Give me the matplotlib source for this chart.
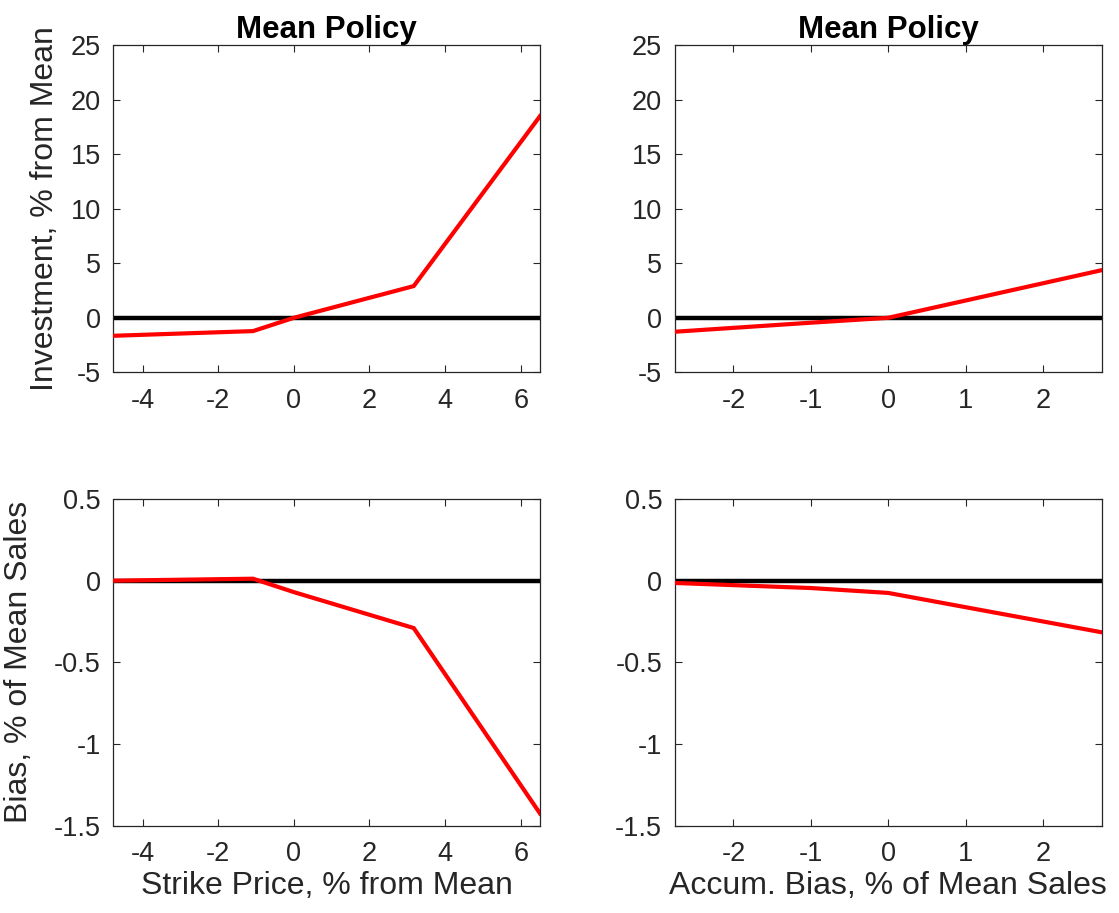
import matplotlib
matplotlib.use("Agg")
import matplotlib.pyplot as plt

plt.rcParams['font.family'] = ['Liberation Sans', 'DejaVu Sans']

# Data
strike_x = [-4.77, -1.08, 0.0, 3.17, 6.51]
invest_strike = [-1.65, -1.22, 0.0, 2.91, 18.5]
bias_strike = [0.0, 0.012, -0.07, -0.29, -1.425]

accum_x = [-2.76, -1.0, 0.0, 2.76]
invest_accum = [-1.28, -0.45, 0.0, 4.37]
bias_accum = [-0.014, -0.045, -0.075, -0.316]

titles = ["Mean Policy", "Mean Policy"]
xlabels = ["Strike Price, % from Mean", "Accum. Bias, % of Mean Sales"]
ylabels = ["Investment, % from Mean", "Bias, % of Mean Sales"]
xticks_strike = [-4, -2, 0, 2, 4, 6]
xticks_accum = [-2, -1, 0, 1, 2]
yticks_top = [-5, 0, 5, 10, 15, 20, 25]
yticks_bot = [-1.5, -1, -0.5, 0, 0.5]
yticklabels_bot = ["-1.5", "-1", "-0.5", "0", "0.5"]

fig = plt.figure(figsize=(11.19, 9.13), dpi=100)
W, H = 1119, 913

def mkax(l, r, t, b):
    return fig.add_axes([l / W, 1 - b / H, (r - l) / W, (b - t) / H])

ax_tl = mkax(113.5, 540, 45.3, 372.3)
ax_tr = mkax(674.7, 1101.7, 45.3, 372.3)
ax_bl = mkax(113.5, 540, 499, 825.7)
ax_br = mkax(674.7, 1101.7, 499, 825.7)

grey = '#262626'
tick_fs = 19.5
label_fs = 23

def style(ax, xlim, ylim, xt, yt, ytl=None):
    ax.set_xlim(*xlim)
    ax.set_ylim(*ylim)
    ax.set_xticks(xt)
    ax.set_xticklabels([str(v) for v in xt])
    ax.set_yticks(yt)
    if ytl is None:
        ax.set_yticklabels([str(v) for v in yt])
    else:
        ax.set_yticklabels(ytl)
    ax.tick_params(direction='in', top=True, right=True, length=5, width=0.8,
                   colors=grey, labelsize=tick_fs, labelcolor=grey)
    ax.tick_params(axis='x', pad=11)
    ax.tick_params(axis='y', pad=9)
    for s in ax.spines.values():
        s.set_color(grey)
        s.set_linewidth(0.9)

def draw(ax, x, y):
    ax.axhline(0, color='black', lw=3.2, zorder=2)
    ax.plot(x, y, color='#ff0000', lw=3.0, zorder=3, solid_joinstyle='miter')

draw(ax_tl, strike_x, invest_strike)
draw(ax_tr, accum_x, invest_accum)
draw(ax_bl, strike_x, bias_strike)
draw(ax_br, accum_x, bias_accum)

style(ax_tl, (-4.77, 6.51), (-5, 25), xticks_strike, yticks_top)
style(ax_tr, (-2.76, 2.76), (-5, 25), xticks_accum, yticks_top)
style(ax_bl, (-4.77, 6.51), (-1.5, 0.5), xticks_strike, yticks_bot, yticklabels_bot)
style(ax_br, (-2.76, 2.76), (-1.5, 0.5), xticks_accum, yticks_bot, yticklabels_bot)

for ax, t in zip([ax_tl, ax_tr], titles):
    ax.set_title(t, fontsize=22.5, fontweight='bold', pad=5, color='black')

ax_bl.set_xlabel(xlabels[0], fontsize=label_fs, color=grey, labelpad=3)
ax_br.set_xlabel(xlabels[1], fontsize=label_fs, color=grey, labelpad=3)
ax_tl.set_ylabel(ylabels[0], fontsize=label_fs, color=grey)
ax_bl.set_ylabel(ylabels[1], fontsize=label_fs, color=grey)
ax_tl.yaxis.set_label_coords((60 - 113.5) / 426.5, 0.5)
ax_bl.yaxis.set_label_coords((34 - 113.5) / 426.5, 0.5)

fig.savefig("out.png", dpi=100)
